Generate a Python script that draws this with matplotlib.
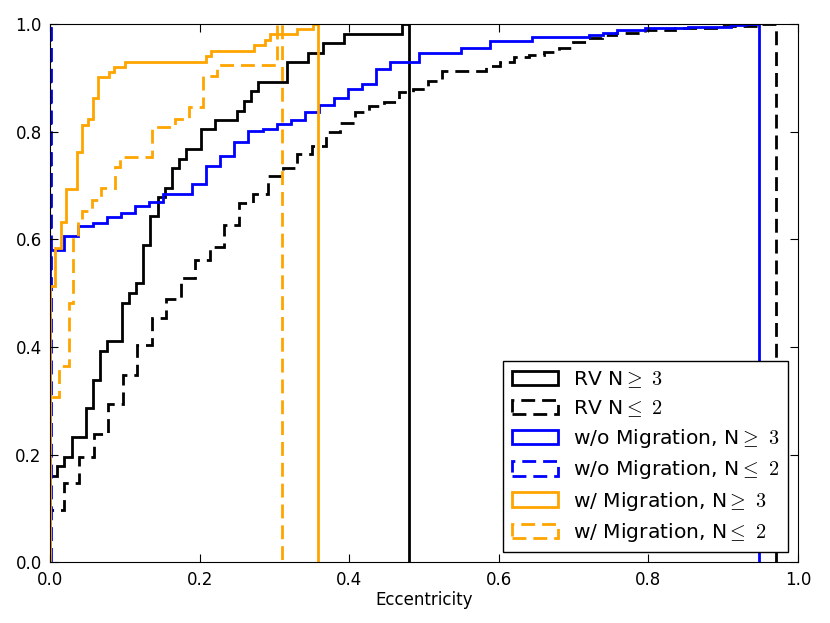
import matplotlib
matplotlib.use("Agg")
import matplotlib.pyplot as plt
from matplotlib.patches import Patch

plt.rcParams['mathtext.fontset'] = 'cm'

# cumulative eccentricity distributions: left bin edge where level starts, level, and last edge
rv3_x = [0, 0.0096, 0.0192, 0.0288, 0.048, 0.0576, 0.0672, 0.0768, 0.096, 0.1056,
         0.1152, 0.1248, 0.1344, 0.144, 0.1536, 0.1632, 0.1728, 0.1824, 0.2016, 0.2208,
         0.2496, 0.2592, 0.2688, 0.2784, 0.3168, 0.3456, 0.3648, 0.3936, 0.4704]
rv3_y = [0.161, 0.179, 0.196, 0.232, 0.286, 0.339, 0.393, 0.411, 0.482, 0.5,
         0.518, 0.589, 0.643, 0.679, 0.696, 0.732, 0.75, 0.768, 0.804, 0.821,
         0.839, 0.857, 0.875, 0.893, 0.929, 0.946, 0.964, 0.982, 1.0]
rv3_end = 0.48

rv2_x = [0, 0.0194, 0.0388, 0.0583, 0.0777, 0.0971, 0.1165, 0.136, 0.155, 0.175,
         0.194, 0.214, 0.233, 0.2525, 0.272, 0.291, 0.311, 0.330, 0.350, 0.369,
         0.388, 0.408, 0.427, 0.447, 0.466, 0.4855, 0.505, 0.524, 0.583, 0.602,
         0.621, 0.641, 0.660, 0.680, 0.699, 0.718, 0.738, 0.757, 0.796, 0.835,
         0.893, 0.951]
rv2_y = [0.098, 0.148, 0.196, 0.238, 0.294, 0.348, 0.404, 0.454, 0.490, 0.529,
         0.562, 0.586, 0.626, 0.667, 0.684, 0.718, 0.732, 0.758, 0.773, 0.800,
         0.817, 0.837, 0.848, 0.856, 0.873, 0.879, 0.895, 0.913, 0.922, 0.930,
         0.938, 0.943, 0.948, 0.955, 0.966, 0.974, 0.980, 0.983, 0.989, 0.993,
         0.996, 1.0]
rv2_end = 0.971

nomig3_x = [0, 0.019, 0.0379, 0.0569, 0.0758, 0.0948, 0.1138, 0.1327, 0.1517, 0.1896,
            0.2086, 0.2275, 0.2465, 0.2654, 0.2844, 0.3034, 0.3223, 0.3413, 0.3602, 0.3792,
            0.3982, 0.4171, 0.4361, 0.455, 0.493, 0.550, 0.588, 0.645, 0.720, 0.739,
            0.758, 0.796, 0.853, 0.910, 0.929]
nomig3_y = [0.580, 0.606, 0.625, 0.630, 0.642, 0.648, 0.661, 0.670, 0.684, 0.703,
            0.737, 0.754, 0.781, 0.801, 0.805, 0.814, 0.822, 0.836, 0.850, 0.862,
            0.879, 0.888, 0.916, 0.930, 0.947, 0.956, 0.969, 0.975, 0.979, 0.984,
            0.988, 0.992, 0.995, 0.998, 1.0]
nomig3_end = 0.948

nomig2_x = [0]
nomig2_y = [1.0]
nomig2_end = 0.002

mig3_x = [0, 0.00718, 0.01436, 0.0215, 0.0359, 0.0431, 0.0503, 0.0574, 0.0646, 0.079,
          0.0862, 0.1005, 0.2082, 0.2154, 0.2728, 0.2872, 0.2944, 0.3303, 0.3518]
mig3_y = [0.513, 0.583, 0.633, 0.694, 0.763, 0.812, 0.823, 0.862, 0.901, 0.911,
          0.921, 0.930, 0.940, 0.950, 0.961, 0.970, 0.981, 0.991, 1.0]
mig3_end = 0.359

mig2_x = [0, 0.0124, 0.0248, 0.031, 0.0372, 0.0434, 0.0558, 0.0682, 0.0868, 0.093,
          0.1364, 0.1674, 0.186, 0.2046, 0.2232, 0.3038]
mig2_y = [0.308, 0.365, 0.481, 0.605, 0.635, 0.652, 0.673, 0.695, 0.735, 0.752,
          0.808, 0.824, 0.845, 0.903, 0.924, 1.0]
mig2_end = 0.31

series = [
    (rv3_x, rv3_y, rv3_end, 'k', '-', r'RV N$\geq$ $3$'),
    (rv2_x, rv2_y, rv2_end, 'k', '--', r'RV N$\leq$ $2$'),
    (nomig3_x, nomig3_y, nomig3_end, 'b', '-', r'w/o Migration, N$\geq$ $3$'),
    (nomig2_x, nomig2_y, nomig2_end, 'b', '--', r'w/o Migration, N$\leq$ $2$'),
    (mig3_x, mig3_y, mig3_end, 'orange', '-', r'w/ Migration, N$\geq$ $3$'),
    (mig2_x, mig2_y, mig2_end, 'orange', '--', r'w/ Migration, N$\leq$ $2$'),
]

fig = plt.figure(figsize=(8.3, 6.23), dpi=100)
ax = fig.add_axes([0.0602, 0.0974, 0.9012, 0.8641])

handles = []
for xs, ys, end, col, ls, lab in series:
    style = (0, (5, 2.5)) if ls == '--' else '-'
    ax.stairs(ys, xs + [end], baseline=0, fill=False, color=col,
              linestyle=style, linewidth=2)
    handles.append(Patch(fill=False, edgecolor=col, linestyle=style,
                         linewidth=2, label=lab))

ax.set_xlim(0, 1)
ax.set_ylim(0, 1)
ax.set_xticks([0, 0.2, 0.4, 0.6, 0.8, 1.0])
ax.set_yticks([0, 0.2, 0.4, 0.6, 0.8, 1.0])
ax.xaxis.set_major_formatter(matplotlib.ticker.FormatStrFormatter('%.1f'))
ax.yaxis.set_major_formatter(matplotlib.ticker.FormatStrFormatter('%.1f'))
ax.tick_params(direction='in', top=True, right=True, length=6, width=0.8,
               labelsize=12, pad=6)
ax.set_xlabel('Eccentricity', fontsize=12, labelpad=2)

leg = ax.legend(handles=handles, loc='lower right', fontsize=14.6, fancybox=False,
                framealpha=1, edgecolor='k', handlelength=2.3, handleheight=0.72,
                borderaxespad=0.5, labelspacing=0.41, handletextpad=0.75)
leg.get_frame().set_linewidth(1)

fig.savefig('out.png', dpi=100)
